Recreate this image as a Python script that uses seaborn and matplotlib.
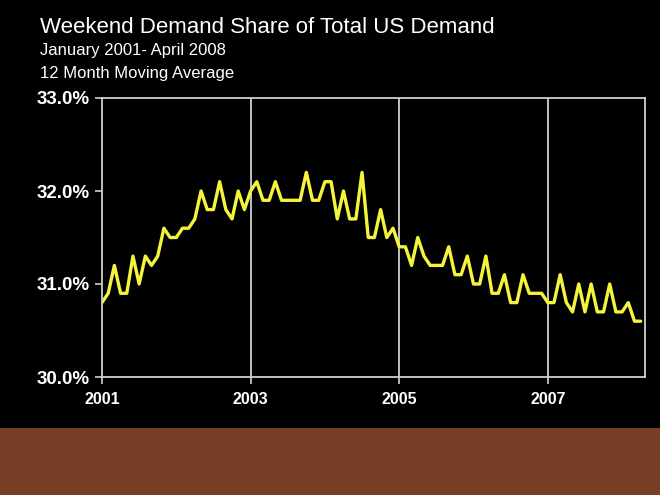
import matplotlib
matplotlib.use("Agg")
import matplotlib.pyplot as plt
import matplotlib.patches as mpatches
import seaborn as sns
import pandas as pd
import numpy as np

# Monthly 12-month moving average, Jan 2001 - Apr 2008 (percent)
share = [30.8, 30.9, 31.2, 30.9, 30.9, 31.3, 31.0, 31.3, 31.2, 31.3,
         31.6, 31.5, 31.5, 31.6, 31.6, 31.7, 32.0, 31.8, 31.8, 32.1,
         31.8, 31.7, 32.0, 31.8, 32.0, 32.1, 31.9, 31.9, 32.1, 31.9,
         31.9, 31.9, 31.9, 32.2, 31.9, 31.9, 32.1, 32.1, 31.7, 32.0,
         31.7, 31.7, 32.2, 31.5, 31.5, 31.8, 31.5, 31.6, 31.4, 31.4,
         31.2, 31.5, 31.3, 31.2, 31.2, 31.2, 31.4, 31.1, 31.1, 31.3,
         31.0, 31.0, 31.3, 30.9, 30.9, 31.1, 30.8, 30.8, 31.1, 30.9,
         30.9, 30.9, 30.8, 30.8, 31.1, 30.8, 30.7, 31.0, 30.7, 31.0,
         30.7, 30.7, 31.0, 30.7, 30.7, 30.8, 30.6, 30.6]
month_index = list(range(len(share)))
year_ticks = [0, 24, 48, 72]
year_labels = ["2001", "2003", "2005", "2007"]
y_ticks = [30.0, 31.0, 32.0, 33.0]
y_labels = ["30.0%", "31.0%", "32.0%", "33.0%"]

title = "Weekend Demand Share of Total US Demand"
sub1 = "January 2001- April 2008"
sub2 = "12 Month Moving Average"

sns.set_style("dark", {"axes.facecolor": "black", "figure.facecolor": "black"})
plt.rcParams["font.family"] = ["Liberation Sans", "DejaVu Sans"]

df = pd.DataFrame({"month": month_index, "share": share})

fig = plt.figure(figsize=(6.6, 4.95), dpi=100)
fig.patch.set_facecolor("black")
# brown bottom band
fig.patches.append(mpatches.Rectangle((0, 0), 1, 67 / 495, transform=fig.transFigure,
                                      facecolor="#783E26", edgecolor="none", zorder=0))

ax = fig.add_axes([102 / 660, 1 - 377 / 495, 543 / 660, 279 / 495])
ax.set_facecolor("black")
sns.lineplot(data=df, x="month", y="share", ax=ax, color="#F4F43C", linewidth=2.4)

ax.set_xlim(0, 87.7)
ax.set_ylim(30.0, 33.0)
ax.set_xticks(year_ticks)
ax.set_xticklabels(year_labels)
ax.set_yticks(y_ticks)
ax.set_yticklabels(y_labels)
ax.set_xlabel("")
ax.set_ylabel("")

gc = "#D0D0D0"
ax.grid(False)
for t in year_ticks[1:]:
    ax.axvline(t, color=gc, linewidth=1.3, zorder=1)
for s in ax.spines.values():
    s.set_visible(True)
    s.set_color(gc)
    s.set_linewidth(1.3)

ax.tick_params(axis="both", colors=gc, direction="out", length=5, width=1.2,
               bottom=True, left=True)
for lab in ax.get_xticklabels():
    lab.set_color("white")
    lab.set_fontweight("bold")
    lab.set_fontsize(11.5)
for lab in ax.get_yticklabels():
    lab.set_color("white")
    lab.set_fontweight("bold")
    lab.set_fontsize(13.5)
ax.tick_params(axis="x", pad=6)
ax.tick_params(axis="y", pad=4)

fig.text(40 / 660, 1 - 33 / 495, title, color="white", fontsize=16, va="baseline")
fig.text(40 / 660, 1 - 55 / 495, sub1, color="white", fontsize=12, va="baseline")
fig.text(40 / 660, 1 - 78 / 495, sub2, color="white", fontsize=12, va="baseline")

fig.savefig("out.png", dpi=100, facecolor="black")
